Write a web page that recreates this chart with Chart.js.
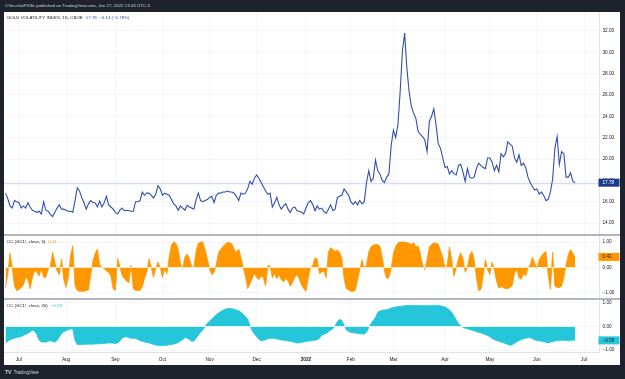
<!DOCTYPE html>
<html>
<head>
<meta charset="utf-8">
<script src="https://cdn.jsdelivr.net/npm/chart.js@4.4.1/dist/chart.umd.min.js"></script>
<style>
  body { margin: 0; width: 625px; height: 379px; background: #1e222d; position: relative; overflow: hidden;
         font-family: "Liberation Sans", Arial, sans-serif; }
  #sheet { position: absolute; left: 4px; top: 12px; width: 616px; height: 353px; background: #fff; }
  canvas { position: absolute; left: 4px; }
  .sep { position: absolute; left: 4px; width: 616px; height: 2px; background: #b2b5be; }
  #head { position: absolute; left: 5px; top: 3px; color: #d1d4dc; font-size: 4.4px; line-height: 6px; white-space: nowrap; }
  #foot { position: absolute; left: 5px; top: 369px; color: #d1d4dc; font-size: 4.6px; line-height: 6px; white-space: nowrap; }
  #foot b { font-size: 5px; margin-right: 2px; }
</style>
</head>
<body>
<div id="head">CVecchioFX3le published on TradingView.com, Jun 27, 2022 13:43 UTC-5</div>
<div id="sheet"></div>
<canvas id="main" width="616" height="222" style="top:12px"></canvas>
<div class="sep" style="top:234px"></div>
<canvas id="cc5" width="616" height="62" style="top:236px"></canvas>
<div class="sep" style="top:298px"></div>
<canvas id="cc20" width="616" height="65" style="top:300px"></canvas>
<div id="foot"><b>TV</b>TradingView</div>

<script>
// month tick labels and the bar index where each month starts (daily bars, Jun 23 2021 = 0)
const monthLabels = ["Jul", "Aug", "Sep", "Oct", "Nov", "Dec", "2022", "Feb", "Mar", "Apr", "May", "Jun", "Jul"];
const monthStarts = [6, 27, 49, 70, 91, 112, 134, 154, 173, 196, 216, 237, 258];

const priceTicks = [14, 16, 18, 20, 22, 24, 26, 28, 30, 32];
const ccTicks = [-1, 0, 1];

// GVZ daily close
const gvz = [
  16.8, 16.3, 15.6, 15.4, 16.1, 16.0, 15.9, 15.4, 15.6, 15.4,
  15.9, 15.5, 15.2, 15.1, 15.0, 15.1, 14.85, 16.0, 15.2, 15.1,
  14.8, 14.6, 15.0, 15.4, 15.7, 15.3, 15.3, 15.2, 15.1, 15.1,
  15.0, 16.1, 17.3, 17.0, 16.4, 15.9, 15.3, 15.8, 16.1, 15.9,
  15.9, 15.5, 16.05, 15.5, 15.9, 16.5, 15.7, 15.5, 15.3, 15.0,
  14.85, 15.2, 15.4, 15.15, 15.2, 15.15, 15.1, 15.1, 16.0, 16.0,
  16.1, 16.9, 16.6, 16.8, 16.8, 16.6, 16.35, 16.7, 17.5, 17.2,
  16.6, 16.8, 16.7, 16.6, 16.2, 15.8, 15.6, 15.2, 15.6, 15.4,
  15.2, 15.65, 15.5, 15.4, 15.3, 16.2, 16.8, 16.1, 16.0, 16.1,
  16.2, 16.4, 16.5, 15.9, 16.6, 16.8, 16.8, 16.9, 16.9, 17.0,
  16.9, 16.9, 16.8, 16.5, 16.1, 16.8, 16.7, 16.8, 17.2, 17.9,
  17.65, 18.2, 18.5, 18.2, 17.8, 17.4, 17.0, 16.7, 16.8, 15.5,
  15.9, 16.4, 15.7, 15.3, 15.6, 15.8, 15.3, 15.0, 15.4, 15.5,
  15.15, 15.1, 15.0, 14.85, 15.4, 15.9, 16.1, 15.75, 15.15, 15.6,
  15.3, 15.4, 15.1, 14.9, 15.3, 15.7, 15.15, 15.3, 16.4, 16.5,
  16.6, 17.2, 16.9, 16.6, 16.0, 15.75, 16.0, 15.7, 16.1, 15.8,
  16.0, 17.8, 18.9, 17.9, 18.2, 19.9, 18.9, 18.6, 18.0, 17.8,
  18.3, 18.6, 21.3, 22.7, 22.0, 23.2, 26.3, 30.1, 31.8, 28.5,
  26.3, 24.9, 24.3, 23.8, 22.6, 22.3, 22.1, 21.8, 20.7, 23.5,
  24.0, 24.7, 23.2, 21.4, 21.0, 20.1, 19.2, 19.3, 18.6, 18.9,
  18.6, 18.5, 19.4, 19.5, 18.8, 17.9, 19.1, 18.3, 18.2, 18.3,
  19.1, 19.6, 19.4, 19.2, 19.1, 20.1, 20.1, 19.7, 18.9, 19.4,
  18.8, 20.5, 20.2, 20.5, 21.6, 21.4, 21.2, 20.1, 19.7, 20.4,
  19.4, 19.6, 19.2, 18.3, 17.8, 17.4, 17.1, 17.2, 16.7, 16.9,
  16.6, 16.1, 16.2, 16.9, 18.1, 21.0, 22.1, 19.5, 20.7, 20.5,
  18.3, 18.3, 18.7, 17.92, 17.78
];

// CC (GC1!, close, 5)
const cc5 = [
  -0.8, -0.3, 0.57, 0.0, -0.75, -0.92, -0.88, -0.8, -0.7, -0.4,
  -0.5, -0.85, -0.4, -0.13, -0.2, -0.35, -0.07, -0.4, -0.4, -0.1,
  0.05, 0.6, 0.2, -0.15, -0.3, 0.33, -0.5, -0.8, -0.4, 0.45,
  0.85, -0.72, -0.92, -0.95, -0.95, -0.95, -0.92, -0.9, -0.3, 0.25,
  0.55, 0.72, 0.1, 0.0, -0.05, -0.15, -0.2, -0.35, -0.85, -0.92,
  0.35, 0.05, -0.33, -0.45, -0.55, -0.62, 0.07, -0.85, -0.92, -0.92,
  -0.92, -0.78, -0.45, -0.2, 0.33, 0.0, -0.4, -0.05, 0.2, 0.0,
  -0.4, -0.07, -0.26, 0.4, 0.88, 1.0, 0.95, 0.72, 0.15, -0.05,
  0.4, 0.53, 0.35, 0.05, -0.02, 0.65, 0.95, 1.0, 1.0, 0.7,
  0.35, -0.05, -0.3, -0.2, 0.1, 0.58, 0.72, 0.82, 0.92, 0.98,
  0.97, 0.92, 0.7, 0.58, 0.72, 0.4, 0.0, -0.35, -0.85, -0.66,
  -0.45, -0.25, -0.4, -0.5, -0.35, -0.42, -0.75, 0.07, 0.05, -0.42,
  -0.25, -0.45, -0.3, -0.5, -0.58, -0.45, -0.55, -0.75, -0.6, -0.4,
  -0.3, -0.45, -0.7, -0.85, -0.95, -0.45, 0.0, 0.05, 0.37, 0.32,
  -0.25, -0.2, -0.15, -0.42, 0.6, 0.78, 0.7, 0.63, 0.68, 0.6,
  0.35, -0.45, -0.85, -0.9, -0.95, -0.95, -0.92, -0.5, -0.1, 0.3,
  -0.05, 0.1, 0.6, 0.8, 0.88, 0.9, 0.9, 0.83, 0.4, -0.15,
  -0.45, -0.4, -0.05, 0.55, 0.82, 0.96, 1.0, 1.0, 1.0, 0.97,
  0.95, 0.9, 0.98, 0.8, 0.85, 0.55, 0.1, -0.09, 0.3, 0.8,
  0.9, 0.96, 0.95, 0.92, 0.65, 0.4, -0.05, 0.1, 0.8, 0.3,
  -0.35, -0.05, 0.35, 0.57, 0.35, -0.2, 0.0, 0.48, 0.63, 0.3,
  -0.4, -0.93, -0.88, -0.36, 0.3, -0.1, -0.29, 0.2, -0.1, -0.55,
  -0.82, -0.77, -0.8, -0.85, -0.85, -0.8, -0.72, -0.25, -0.08, -0.42,
  -0.48, -0.25, -0.35, -0.03, 0.1, 0.4, 0.17, -0.05, 0.3, 0.45,
  0.55, 0.63, -0.3, -0.88, 0.6, -0.75, -0.8, -0.8, -0.75, -0.4,
  0.1, 0.5, 0.7, 0.55, 0.41
];

// CC (GC1!, close, 20)
const cc20 = [
  -0.7, -0.63, -0.57, -0.53, -0.5, -0.47, -0.45, -0.43, -0.38, -0.33,
  -0.3, -0.22, -0.16, -0.2, -0.35, -0.58, -0.66, -0.66, -0.67, -0.63,
  -0.61, -0.64, -0.67, -0.6, -0.45, -0.31, -0.22, -0.18, -0.14, -0.11,
  -0.1, -0.6, -0.77, -0.77, -0.76, -0.76, -0.75, -0.75, -0.75, -0.75,
  -0.74, -0.74, -0.73, -0.73, -0.72, -0.71, -0.7, -0.7, -0.71, -0.72,
  -0.7, -0.62, -0.5, -0.45, -0.44, -0.48, -0.5, -0.5, -0.51, -0.55,
  -0.61, -0.63, -0.66, -0.68, -0.7, -0.73, -0.77, -0.79, -0.81, -0.81,
  -0.81, -0.8, -0.8, -0.78, -0.77, -0.75, -0.72, -0.68, -0.62, -0.57,
  -0.47, -0.5, -0.55, -0.63, -0.62, -0.5, -0.37, -0.25, -0.15, 0.0,
  0.13, 0.22, 0.32, 0.4, 0.5, 0.57, 0.63, 0.69, 0.73, 0.76,
  0.76, 0.75, 0.73, 0.7, 0.66, 0.6, 0.52, 0.42, 0.3, 0.05,
  -0.18, -0.32, -0.43, -0.55, -0.61, -0.6, -0.56, -0.52, -0.51, -0.5,
  -0.51, -0.53, -0.55, -0.57, -0.59, -0.6, -0.62, -0.63, -0.65, -0.68,
  -0.7, -0.7, -0.68, -0.66, -0.64, -0.62, -0.61, -0.6, -0.58, -0.56,
  -0.5, -0.38, -0.33, -0.3, -0.22, -0.16, -0.1, 0.03, 0.2, 0.3,
  0.25, 0.05, -0.15, -0.22, -0.25, -0.27, -0.28, -0.3, -0.31, -0.32,
  -0.32, -0.25, -0.05, 0.12, 0.25, 0.38, 0.6, 0.65, 0.69, 0.7,
  0.71, 0.74, 0.78, 0.8, 0.82, 0.84, 0.85, 0.86, 0.88, 0.89,
  0.89, 0.89, 0.89, 0.89, 0.89, 0.89, 0.88, 0.88, 0.88, 0.88,
  0.89, 0.89, 0.89, 0.89, 0.87, 0.85, 0.82, 0.77, 0.7, 0.6,
  0.45, 0.28, 0.12, 0.03, -0.03, -0.08, -0.1, -0.13, -0.16, -0.18,
  -0.22, -0.25, -0.28, -0.31, -0.35, -0.38, -0.44, -0.5, -0.56, -0.6,
  -0.63, -0.66, -0.69, -0.73, -0.76, -0.8, -0.78, -0.71, -0.66, -0.6,
  -0.56, -0.52, -0.5, -0.48, -0.48, -0.52, -0.57, -0.6, -0.61, -0.63,
  -0.65, -0.67, -0.7, -0.67, -0.64, -0.62, -0.61, -0.6, -0.59, -0.58,
  -0.6, -0.61, -0.6, -0.58, -0.59
];

const FONT = '"Liberation Sans", Arial, sans-serif';
const X_MIN = -0.67, X_MAX = 264.9;
const GRID = "#f4f5f9";

const fmt = (v) => (v < 0 ? "\u2212" : "") + Math.abs(v).toFixed(2);
const pts = (arr) => arr.map((v, i) => ({ x: i, y: v }));

// price line, zero line, last-value box and pane legend
const paneDecor = {
  id: "paneDecor",
  beforeDatasetsDraw(chart, args, o) {
    if (!o.priceLine) return;
    const { ctx, chartArea: ca, scales: { y } } = chart;
    const d = chart.data.datasets[0].data;
    const py = Math.round(y.getPixelForValue(d[d.length - 1].y)) + 0.5;
    ctx.save();
    ctx.strokeStyle = o.priceLine;
    ctx.lineWidth = 1.5;
    ctx.beginPath();
    ctx.moveTo(ca.left, py);
    ctx.lineTo(ca.right, py);
    ctx.stroke();
    ctx.restore();
  },
  afterDatasetsDraw(chart, args, o) {
    if (!o.zeroLine) return;
    const { ctx, chartArea: ca, scales: { x, y } } = chart;
    const d = chart.data.datasets[0].data;
    const py = Math.round(y.getPixelForValue(0)) + 0.5;
    ctx.save();
    ctx.strokeStyle = o.zeroLine;
    ctx.lineWidth = 1;
    ctx.beginPath();
    ctx.moveTo(ca.left, py);
    ctx.lineTo(x.getPixelForValue(d[d.length - 1].x), py);
    ctx.stroke();
    ctx.restore();
  },
  afterDraw(chart, args, o) {
    const { ctx, chartArea: ca, scales: { y } } = chart;
    const d = chart.data.datasets[0].data;
    const last = d[d.length - 1].y;
    const py = y.getPixelForValue(last);
    ctx.save();
    ctx.fillStyle = o.boxColor;
    ctx.fillRect(ca.right - 1, py - 4, 21, 8);
    ctx.fillStyle = o.boxText;
    ctx.font = "4.7px " + FONT;
    ctx.textBaseline = "middle";
    ctx.textAlign = "left";
    ctx.fillText(fmt(last), ca.right + 3, py + 0.3);

    ctx.font = "4.4px " + FONT;
    ctx.fillStyle = "#131722";
    ctx.fillText(o.title, 3, 5.5);
    const w = ctx.measureText(o.title).width;
    ctx.fillStyle = o.valueColor;
    ctx.fillText(o.value, 3 + w + 3, 5.5);
    ctx.restore();
  }
};

function xScale(showLabels) {
  return {
    type: "linear",
    min: X_MIN,
    max: X_MAX,
    afterBuildTicks: (s) => { s.ticks = monthStarts.map((v) => ({ value: v })); },
    ticks: {
      display: showLabels,
      autoSkip: false,
      maxRotation: 0,
      padding: 5,
      color: "#131722",
      font: (c) => ({ family: FONT, size: 4.7, weight: c.tick && c.tick.value === 134 ? "bold" : "normal" }),
      callback: (v) => monthLabels[monthStarts.indexOf(v)]
    },
    grid: { color: GRID, drawTicks: false },
    border: { display: showLabels, color: "#e0e3eb" },
    afterFit: (s) => { s.height = showLabels ? 13 : 0; s.paddingLeft = 0; s.paddingRight = 0; }
  };
}

function yScale(min, max, tickVals) {
  return {
    type: "linear",
    position: "right",
    min: min,
    max: max,
    afterBuildTicks: (s) => { s.ticks = tickVals.map((v) => ({ value: v })); },
    ticks: { color: "#131722", font: { family: FONT, size: 4.7 }, padding: 3, callback: fmt },
    grid: { color: GRID, drawTicks: false },
    border: { display: true, color: "#e0e3eb" },
    afterFit: (s) => { s.width = 20.5; s.paddingTop = 0; s.paddingBottom = 0; }
  };
}

function pane(id, dataset, yOpts, decor, showX) {
  return new Chart(document.getElementById(id), {
    type: "line",
    data: { datasets: [dataset] },
    options: {
      responsive: false,
      animation: false,
      devicePixelRatio: 1,
      layout: { padding: 0 },
      scales: { x: xScale(showX), y: yOpts },
      plugins: { legend: { display: false }, tooltip: { enabled: false }, paneDecor: decor }
    },
    plugins: [paneDecor]
  });
}

pane("main", {
  data: pts(gvz), borderColor: "#2f4fae", borderWidth: 1.1, pointRadius: 0, tension: 0, fill: false
}, yScale(12.97, 33.78, priceTicks), {
  priceLine: "rgba(47,79,174,0.18)",
  boxColor: "#1d3b8e", boxText: "#ffffff",
  title: "GOLD VOLATILITY INDEX, 1D, CBOE", value: "17.78  \u22120.14 (\u22120.78%)", valueColor: "#2f4fae"
}, false);

pane("cc5", {
  data: pts(cc5), borderColor: "#ff9800", backgroundColor: "#ff9800", borderWidth: 0.8, pointRadius: 0, tension: 0, fill: "origin"
}, yScale(-1.218, 1.238, ccTicks), {
  zeroLine: "rgba(255,240,215,0.9)",
  boxColor: "#ff9800", boxText: "#131722",
  title: "CC (GC1!, close, 5)", value: "0.41", valueColor: "#ff9800"
}, false);

pane("cc20", {
  data: pts(cc20), borderColor: "#26c6da", backgroundColor: "#26c6da", borderWidth: 0.8, pointRadius: 0, tension: 0, fill: "origin"
}, yScale(-1.083, 1.12, ccTicks), {
  zeroLine: "rgba(225,250,252,0.9)",
  boxColor: "#26c6da", boxText: "#131722",
  title: "CC (GC1!, close, 20)", value: "\u22120.59", valueColor: "#26c6da"
}, true);
</script>
</body>
</html>
